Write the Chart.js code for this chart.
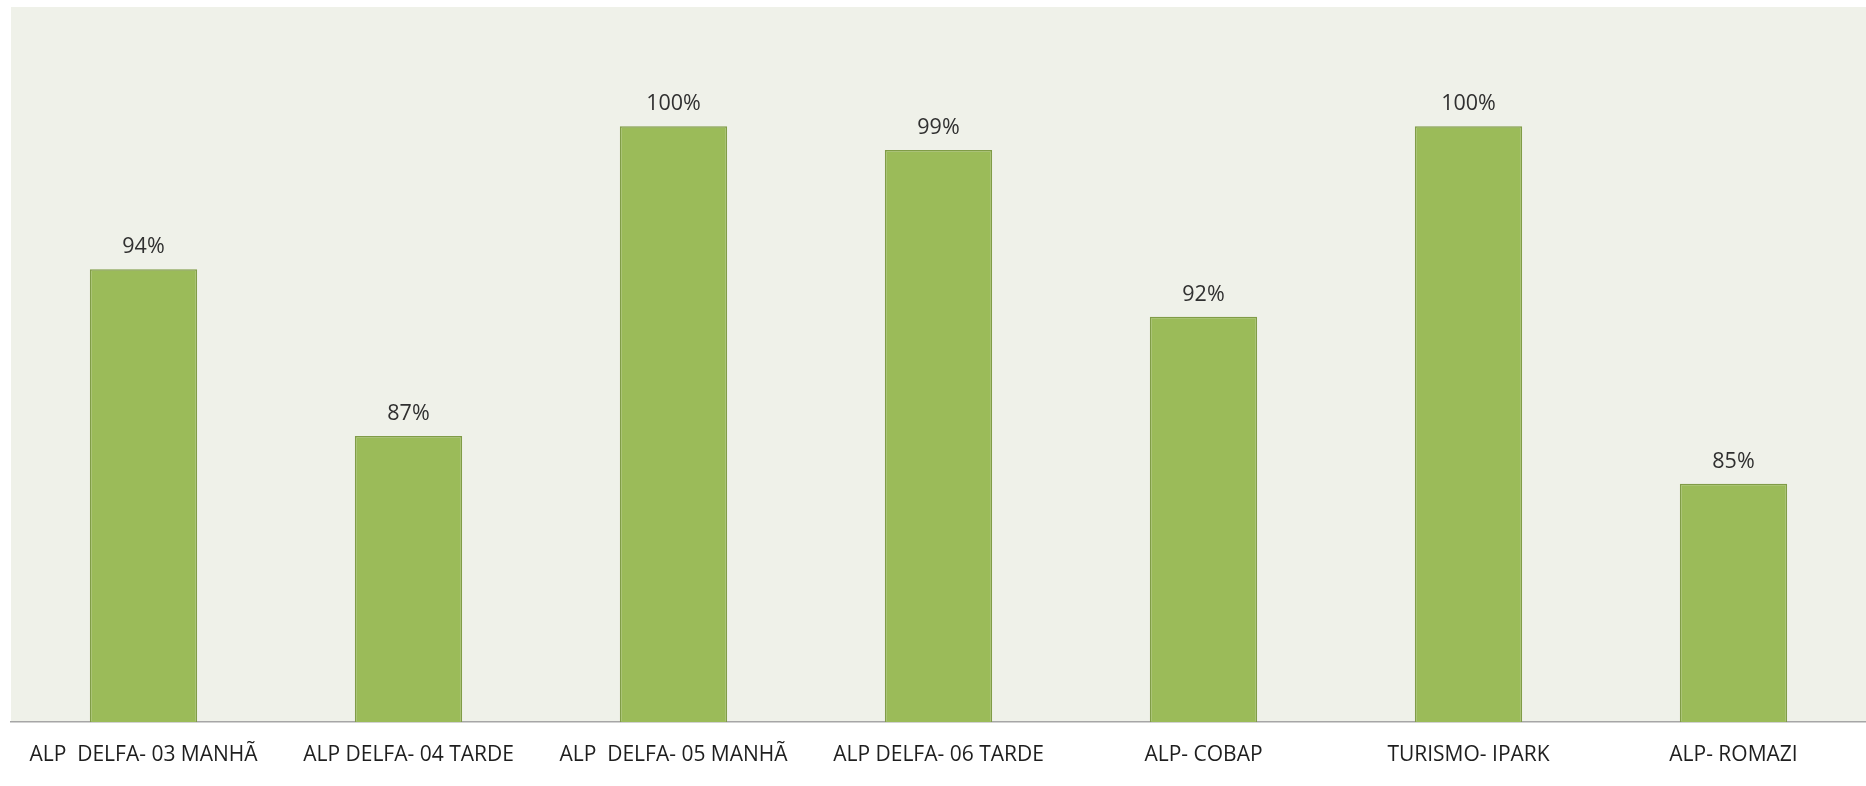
<!DOCTYPE html>
<html>
<head>
<meta charset="utf-8">
<script src="https://cdn.jsdelivr.net/npm/chart.js@4.4.0/dist/chart.umd.min.js"></script>
<style>
  html, body { margin: 0; padding: 0; background: #ffffff; }
  #wrap { width: 1866px; height: 786px; position: relative; }
</style>
</head>
<body>
<div id="wrap"><canvas id="barChart"></canvas></div>
<script>
const categories = [
  "ALP  DELFA- 03 MANHÃ",
  "ALP DELFA- 04 TARDE",
  "ALP  DELFA- 05 MANHÃ",
  "ALP DELFA- 06 TARDE",
  "ALP- COBAP",
  "TURISMO- IPARK",
  "ALP- ROMAZI"
];
const percentValues = [94, 87, 100, 99, 92, 100, 85];

// paints the light plot background behind the bars
const plotBackground = {
  id: 'plotBackground',
  beforeDraw(chart) {
    const { ctx, chartArea } = chart;
    ctx.save();
    ctx.fillStyle = '#eff1e9';
    ctx.fillRect(chartArea.left, chartArea.top, chartArea.right - chartArea.left, chartArea.bottom - chartArea.top);
    ctx.restore();
  }
};

// value labels above each bar
const valueLabels = {
  id: 'valueLabels',
  afterDatasetsDraw(chart) {
    const { ctx } = chart;
    const meta = chart.getDatasetMeta(0);
    ctx.save();
    ctx.font = "21.5px 'Open Sans'";
    ctx.fillStyle = '#303030';
    ctx.textAlign = 'center';
    ctx.textBaseline = 'middle';
    meta.data.forEach((bar, i) => {
      ctx.fillText(percentValues[i] + '%', bar.x, bar.y - 22);
    });
    ctx.restore();
  }
};

new Chart(document.getElementById("barChart"), {
  type: "bar",
  data: {
    labels: categories,
    datasets: [{
      data: percentValues,
      backgroundColor: '#9bbb59',
      borderColor: '#809c47',
      borderWidth: 1.5,
      categoryPercentage: 1.0,
      barPercentage: 0.405
    }]
  },
  options: {
    responsive: true,
    maintainAspectRatio: false,
    animation: false,
    layout: {
      padding: { top: 7, left: 11, right: 0, bottom: 0 }
    },
    plugins: {
      legend: { display: false },
      tooltip: { enabled: false }
    },
    scales: {
      x: {
        grid: { display: false, drawTicks: false },
        border: { display: true, color: '#a6a6a6', width: 1.5 },
        ticks: {
          color: '#1e1e1e',
          font: { family: "'Open Sans'", size: 21 },
          padding: 20,
          maxRotation: 0,
          autoSkip: false
        },
        afterFit(scale) {
          scale.height = 64;
        }
      },
      y: {
        display: false,
        min: 75,
        max: 105
      }
    }
  },
  plugins: [plotBackground, valueLabels]
});
</script>
</body>
</html>
